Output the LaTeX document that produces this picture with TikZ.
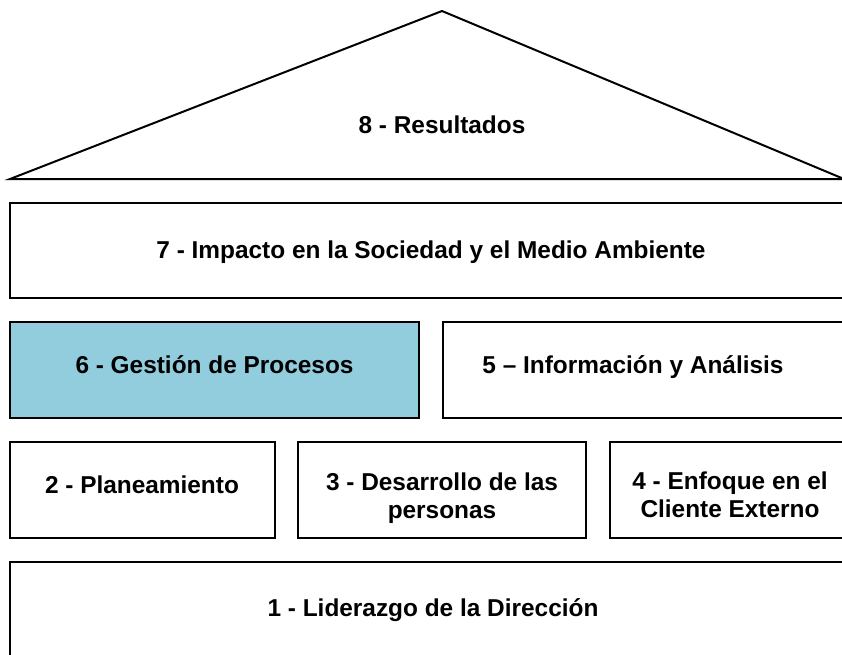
\documentclass[tikz,border=0pt]{standalone}
\usepackage{fontspec}
\setmainfont{Liberation Sans}
\definecolor{procblue}{RGB}{146,205,221}

\begin{document}
\begin{tikzpicture}[x=0.75pt,y=-0.75pt,line width=1.5pt,
    lbl/.style={font=\fontsize{18.3}{21}\selectfont\bfseries,align=center}]
            \clip (0,0) rectangle (842,654);
            % roof
            \draw (10,179)--(442,11)--(844,179)--cycle;
            % floors
            \draw (10,203) rectangle (856,298);
            \draw[fill=procblue] (10,322) rectangle (419,418);
            \draw (443,322) rectangle (856,418);
            \draw (10,442) rectangle (275,538);
            \draw (298,442) rectangle (586,538);
            \draw (610,442) rectangle (856,538);
            \draw (10,562) rectangle (856,690);
            % labels
            \node[lbl,anchor=base] (resultados) at (442,133) {8 - Resultados};
            \node[lbl,anchor=base] (impacto) at (431,258) {7 - Impacto en la Sociedad y el Medio Ambiente};
            \node[lbl,anchor=base] (procesos) at (214.5,373) {6 - Gestión de Procesos};
            \node[lbl,anchor=base] (info) at (633,373) {5 – Información y Análisis};
            \node[lbl,anchor=base] (plan) at (142,493) {2 - Planeamiento};
            \node[lbl] (personas) at (442,498) {3 - Desarrollo de las\\personas};
            \node[lbl] (cliente) at (730,495) {4 - Enfoque en el\\Cliente Externo};
            \node[lbl,anchor=base] (liderazgo) at (433,616) {1 - Liderazgo de la Dirección};
        \end{tikzpicture}
\end{document}
